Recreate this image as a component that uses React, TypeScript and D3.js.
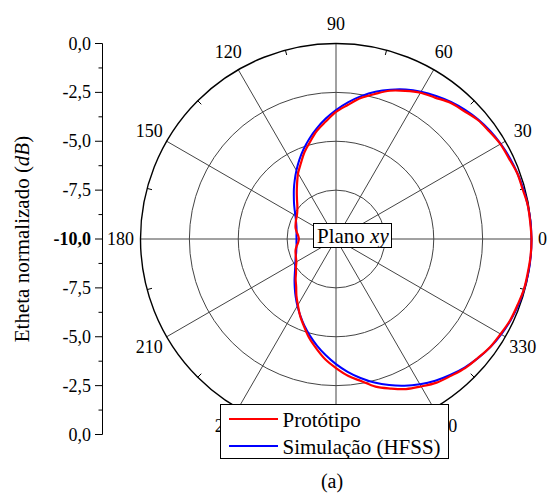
import React from "react";
import * as d3 from "d3";

const angles = d3.range(0, 360, 5);
const prototipo = [
  0.0, -0.03, -0.04, -0.12, -0.14, -0.24, -0.29, -0.42, -0.53, -0.74, -0.9, -1.17,
  -1.36, -1.64, -1.93, -2.32, -2.68, -3.12, -3.5, -3.97, -4.38, -4.86, -5.28, -5.74,
  -6.12, -6.53, -6.88, -7.18, -7.42, -7.58, -7.68, -7.74, -7.8, -7.86, -7.96, -8.06,
  -8.1, -8.06, -7.96, -7.86, -7.8, -7.74, -7.66, -7.5, -7.33, -7.08, -6.83, -6.47,
  -6.1, -5.66, -5.23, -4.74, -4.29, -3.81, -3.4, -2.98, -2.62, -2.18, -1.86, -1.53,
  -1.29, -1.03, -0.86, -0.66, -0.53, -0.37, -0.28, -0.17, -0.12, -0.05, -0.04, -0.01,
];
const simulacao = [
  0.0, -0.01, -0.04, -0.08, -0.13, -0.19, -0.27, -0.37, -0.5, -0.66, -0.85, -1.07,
  -1.3, -1.56, -1.87, -2.2, -2.58, -2.98, -3.4, -3.83, -4.27, -4.7, -5.13, -5.55,
  -5.95, -6.32, -6.65, -6.95, -7.2, -7.42, -7.6, -7.74, -7.84, -7.91, -7.95, -7.97,
  -7.98, -7.97, -7.95, -7.9, -7.83, -7.72, -7.6, -7.45, -7.25, -7.0, -6.72, -6.4,
  -6.05, -5.68, -5.28, -4.87, -4.45, -4.03, -3.6, -3.18, -2.78, -2.4, -2.05, -1.72,
  -1.42, -1.15, -0.92, -0.7, -0.52, -0.36, -0.24, -0.15, -0.08, -0.04, -0.01, 0.0,
];
const ringValues = [-7.5, -5, -2.5];
const spokeAngles = [0, 30, 60, 90, 120, 150, 180, 210, 240, 270, 300, 330];
const labelAngles = [0, 30, 60, 90, 120, 150, 180, 210, 240, 300, 330];
const minorTickAngles = [15, 45, 75, 105, 135, 165, 195, 225, 255, 285, 315, 345];
const yTickLabels = ["0,0", "-2,5", "-5,0", "-7,5", "-10,0", "-7,5", "-5,0", "-2,5", "0,0"];

const W = 547, H = 493;
const cx = 336, cy = 239, R = 195.5;
const FAM = "Liberation Serif";

export default function App() {
  const r = d3.scaleLinear().domain([-10, 0]).range([0, R]);
  const yAx = d3.scaleLinear().domain([0, yTickLabels.length - 1]).range([cy - R, cy + R]);
  const rad = (deg: number) => (deg * Math.PI) / 180;
  const px = (deg: number, rr: number) => cx + rr * Math.cos(rad(deg));
  const py = (deg: number, rr: number) => cy - rr * Math.sin(rad(deg));

  const line = (vals: number[]) =>
    d3
      .lineRadial<number>()
      .angle((_, i) => rad(90 - angles[i]))
      .radius((d) => r(d))
      .curve(d3.curveCatmullRomClosed)(vals) as string;

  const minorY = d3.range(0, yTickLabels.length - 0.5, 0.5).filter((v) => v % 1 !== 0);

  return (
    <div style={{ fontFamily: `"${FAM}"` }}>
    <svg width={W} height={H} fontFamily={FAM} style={{ position: "absolute", left: 0, top: 0, background: "#fff" }}>
      {ringValues.map((v) => (
        <circle key={v} cx={cx} cy={cy} r={r(v)} fill="none" stroke="#444" strokeWidth={1} />
      ))}
      {spokeAngles.map((a) => (
        <line key={a} x1={cx} y1={cy} x2={px(a, R)} y2={py(a, R)} stroke="#444" strokeWidth={1} />
      ))}
      <circle cx={cx} cy={cy} r={R} fill="none" stroke="#000" strokeWidth={1.4} />
      {minorTickAngles.map((a) => (
        <line key={a} x1={px(a, R)} y1={py(a, R)} x2={px(a, R - 5)} y2={py(a, R - 5)} stroke="#000" strokeWidth={1} />
      ))}
      {labelAngles.map((a) => {
        const lr = a === 0 ? R + 11 : R + 20;
        return (
          <text key={a} x={px(a, lr)} y={py(a, lr) + 6} fontSize={18} textAnchor="middle" fontFamily={FAM}>
            {a}
          </text>
        );
      })}
      <path d={line(simulacao)} transform={`translate(${cx},${cy})`} fill="none" stroke="#0000ff" strokeWidth={2} />
      <path d={line(prototipo)} transform={`translate(${cx},${cy})`} fill="none" stroke="#ff0000" strokeWidth={2.2} />

      <rect x={313.5} y={223.5} width={78} height={24} fill="#fff" stroke="#000" strokeWidth={1} />
      <text x={317} y={243} fontSize={21} fontFamily={FAM}>
        Plano <tspan fontStyle="italic">xy</tspan>
      </text>

      <line x1={102.5} y1={yAx(0)} x2={102.5} y2={yAx(yTickLabels.length - 1)} stroke="#000" strokeWidth={1} />
      {yTickLabels.map((lab, i) => (
        <g key={i}>
          <line x1={95} y1={yAx(i)} x2={102.5} y2={yAx(i)} stroke="#000" strokeWidth={1} />
          <text x={91} y={yAx(i) + 6} fontSize={18} textAnchor="end" fontFamily={FAM}
            fontWeight={lab === "-10,0" ? "bold" : "normal"}>
            {lab}
          </text>
        </g>
      ))}
      {minorY.map((v) => (
        <line key={v} x1={98.5} y1={yAx(v)} x2={102.5} y2={yAx(v)} stroke="#000" strokeWidth={1} />
      ))}
      <text transform={`translate(29,${cy}) rotate(-90)`} fontSize={21} textAnchor="middle" fontFamily={FAM}>
        Etheta normalizado (<tspan fontStyle="italic">dB</tspan>)
      </text>

      <rect x={220.5} y={404.5} width={228} height={54} fill="#fff" stroke="#000" strokeWidth={1} />
      <line x1={229} y1={419} x2={278} y2={419} stroke="#ff0000" strokeWidth={2} />
      <line x1={229} y1={446} x2={278} y2={446} stroke="#0000ff" strokeWidth={2} />
      <text x={282.5} y={426.5} fontSize={21} fontFamily={FAM}>Protótipo</text>
      <text x={282.5} y={453.5} fontSize={21} fontFamily={FAM}>Simulação (HFSS)</text>

      <text x={332} y={488} fontSize={20} textAnchor="middle" fontFamily={FAM}>(a)</text>
    </svg>
    </div>
  );
}
